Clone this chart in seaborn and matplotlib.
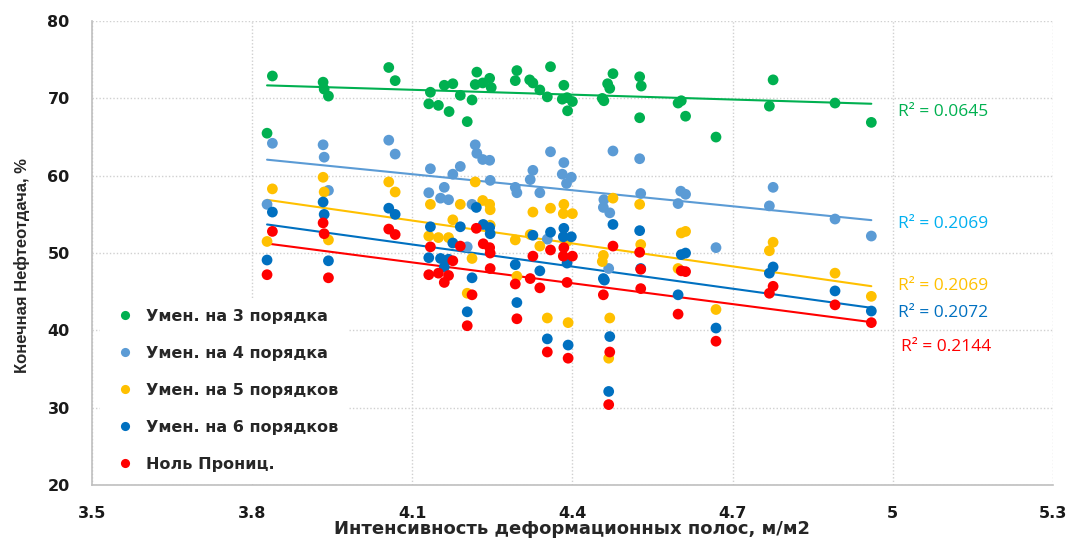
import numpy as np
import pandas as pd
import matplotlib
matplotlib.use("Agg")
import matplotlib.pyplot as plt
import seaborn as sns

# ==========================================
# Data
# ==========================================

series_names = ["Умен. на 3 порядка", "Умен. на 4 порядка", "Умен. на 5 порядков",
                "Умен. на 6 порядков", "Ноль Прониц."]
series_colors = ["#00B050", "#5B9BD5", "#FFC000", "#0070C0", "#FF0000"]
r2_labels = ["R² = 0.0645", "R² = 0.2069", "R² = 0.2069", "R² = 0.2072", "R² = 0.2144"]
r2_colors = ["#00B050", "#00B0F0", "#FFC000", "#0070C0", "#FF0000"]

green_x = [3.828, 3.838, 3.933, 3.935, 3.943, 4.056, 4.068, 4.134, 4.131, 4.149, 4.16, 4.176,
           4.169, 4.19, 4.212, 4.203, 4.221, 4.218, 4.232, 4.245, 4.248, 4.296, 4.293, 4.32,
           4.326, 4.339, 4.353, 4.359, 4.384, 4.381, 4.39, 4.4, 4.391, 4.476, 4.466, 4.47,
           4.456, 4.459, 4.526, 4.529, 4.526, 4.598, 4.604, 4.612, 4.669, 4.776, 4.769, 4.892, 4.96]
green_y = [65.5, 72.9, 72.1, 71.2, 70.3, 74.0, 72.3, 70.8, 69.3, 69.1, 71.7, 71.9,
           68.3, 70.4, 69.8, 67.0, 73.4, 71.8, 72.0, 72.6, 71.4, 73.6, 72.3, 72.4,
           72.0, 71.1, 70.2, 74.1, 71.7, 69.9, 70.1, 69.6, 68.4, 73.2, 71.9, 71.3,
           70.0, 69.7, 72.8, 71.6, 67.5, 69.4, 69.7, 67.7, 65.0, 72.4, 69.0, 69.4, 66.9]

lblue_x = [3.828, 3.838, 3.933, 3.935, 3.943, 4.056, 4.068, 4.134, 4.131, 4.176, 4.19, 4.218,
           4.221, 4.232, 4.245, 4.246, 4.326, 4.321, 4.359, 4.384, 4.381, 4.398, 4.389, 4.476,
           4.16, 4.153, 4.168, 4.293, 4.296, 4.339, 4.212, 4.353, 4.459, 4.458, 4.47, 4.468,
           4.203, 4.528, 4.526, 4.603, 4.612, 4.598, 4.669, 4.776, 4.769, 4.892, 4.96]
lblue_y = [56.3, 64.2, 64.0, 62.4, 58.1, 64.6, 62.8, 60.9, 57.8, 60.2, 61.2, 64.0,
           62.9, 62.1, 62.0, 59.4, 60.7, 59.5, 63.1, 61.7, 60.2, 59.8, 59.0, 63.2,
           58.5, 57.1, 56.9, 58.5, 57.8, 57.8, 56.3, 51.8, 56.9, 55.9, 55.2, 48.0,
           50.8, 57.7, 62.2, 58.0, 57.6, 56.4, 50.7, 58.5, 56.1, 54.4, 52.2]

yellow_x = [3.838, 3.828, 3.933, 3.935, 3.943, 4.056, 4.068, 4.134, 4.131, 4.149, 4.218, 4.19,
            4.232, 4.245, 4.246, 4.176, 4.168, 4.246, 4.212, 4.293, 4.326, 4.359, 4.384, 4.383,
            4.4, 4.321, 4.339, 4.39, 4.476, 4.458, 4.456, 4.296, 4.203, 4.353, 4.392, 4.47,
            4.468, 4.526, 4.604, 4.612, 4.528, 4.776, 4.769, 4.892, 4.598, 4.96, 4.669]
yellow_y = [58.3, 51.5, 59.8, 57.9, 51.7, 59.2, 57.9, 56.3, 52.2, 52.0, 59.2, 56.3,
            56.8, 56.3, 55.6, 54.3, 52.0, 53.6, 49.3, 51.7, 55.3, 55.8, 56.3, 55.1,
            55.1, 52.4, 50.9, 51.5, 57.1, 49.7, 48.9, 47.0, 44.8, 41.6, 41.0, 41.6,
            36.4, 56.3, 52.6, 52.8, 51.1, 51.4, 50.3, 47.4, 48.0, 44.4, 42.7]

dblue_x = [3.838, 3.828, 3.933, 3.935, 3.943, 4.056, 4.068, 4.134, 4.131, 4.19, 4.22, 4.233,
           4.245, 4.246, 4.176, 4.153, 4.168, 4.16, 4.212, 4.326, 4.359, 4.384, 4.383, 4.398,
           4.293, 4.339, 4.39, 4.476, 4.458, 4.203, 4.296, 4.353, 4.392, 4.47, 4.468, 4.526,
           4.604, 4.612, 4.528, 4.776, 4.769, 4.892, 4.598, 4.669, 4.96, 4.46]
dblue_y = [55.3, 49.1, 56.6, 55.0, 49.0, 55.8, 55.0, 53.4, 49.4, 53.4, 55.9, 53.7,
           53.3, 52.5, 51.3, 49.3, 49.2, 48.2, 46.8, 52.3, 52.7, 53.2, 52.1, 52.1,
           48.5, 47.7, 48.7, 53.7, 46.7, 42.4, 43.6, 38.9, 38.1, 39.2, 32.1, 52.9,
           49.8, 50.0, 48.0, 48.2, 47.4, 45.1, 44.6, 40.3, 42.5, 46.5]

red_x = [3.838, 3.828, 3.933, 3.935, 3.943, 4.056, 4.068, 4.134, 4.131, 4.149, 4.19, 4.22,
         4.233, 4.245, 4.246, 4.176, 4.168, 4.16, 4.246, 4.326, 4.359, 4.384, 4.383, 4.4,
         4.476, 4.321, 4.339, 4.293, 4.39, 4.212, 4.203, 4.296, 4.353, 4.392, 4.458, 4.47,
         4.468, 4.526, 4.604, 4.612, 4.528, 4.776, 4.769, 4.528, 4.598, 4.669, 4.892, 4.96]
red_y = [52.8, 47.2, 53.9, 52.5, 46.8, 53.1, 52.4, 50.8, 47.2, 47.4, 50.9, 53.2,
         51.2, 50.7, 50.0, 49.0, 47.1, 46.2, 48.0, 49.6, 50.4, 50.7, 49.6, 49.6,
         50.9, 46.7, 45.5, 46.0, 46.2, 44.6, 40.6, 41.5, 37.2, 36.4, 44.6, 37.2,
         30.4, 50.1, 47.7, 47.6, 47.9, 45.7, 44.8, 45.4, 42.1, 38.6, 43.3, 41.0]

x_ticks = [3.5, 3.8, 4.1, 4.4, 4.7, 5.0, 5.3]
x_tick_labels = ["3.5", "3.8", "4.1", "4.4", "4.7", "5", "5.3"]
y_ticks = [20, 30, 40, 50, 60, 70, 80]

# R² label positions (data coords)
r2_pos = [(5.01, 68.2), (5.01, 53.8), (5.01, 45.8), (5.01, 42.3), (5.015, 37.8)]

# ==========================================
# Build table
# ==========================================

xs = [green_x, lblue_x, yellow_x, dblue_x, red_x]
ys = [green_y, lblue_y, yellow_y, dblue_y, red_y]

frames = []
for name, x, y in zip(series_names, xs, ys):
    frames.append(pd.DataFrame({"x": x, "y": y, "series": name}))
df = pd.concat(frames, ignore_index=True)

# ==========================================
# Plot
# ==========================================

sns.set_style("white")
plt.rcParams["font.family"] = ["DejaVu Sans"]

fig = plt.figure(figsize=(10.73, 5.41), dpi=100)
ax = fig.add_axes([0.0857, 0.1035, 0.8955, 0.8575])

sns.scatterplot(data=df, x="x", y="y", hue="series", hue_order=series_names,
                palette=series_colors, s=60, edgecolor="none", linewidth=0,
                ax=ax, zorder=3)

for name, color in zip(series_names, series_colors):
    sub = df[df["series"] == name]
    sns.regplot(data=sub, x="x", y="y", scatter=False, ci=None, truncate=True,
                color=color, line_kws={"linewidth": 1.5, "zorder": 2}, ax=ax)

for (tx, ty), lab, col in zip(r2_pos, r2_labels, r2_colors):
    ax.text(tx, ty, lab, color=col, fontsize=12.5, ha="left", va="center",
            family=["Open Sans", "DejaVu Sans"])

ax.set_xlim(3.5, 5.3)
ax.set_ylim(20, 80)
ax.set_xticks(x_ticks)
ax.set_xticklabels(x_tick_labels)
ax.set_yticks(y_ticks)
ax.tick_params(axis="both", length=0, labelsize=11.5, labelcolor="#1a1a1a")
ax.tick_params(axis="x", pad=15)
ax.tick_params(axis="y", pad=16)
for lab in ax.get_xticklabels() + ax.get_yticklabels():
    lab.set_fontweight("bold")

ax.grid(True, linestyle=(0, (1, 1.5)), color="#D0D0D0", linewidth=1)
ax.set_axisbelow(True)
for s in ["top", "right"]:
    ax.spines[s].set_visible(False)
for s in ["left", "bottom"]:
    ax.spines[s].set_color("#BFBFBF")
    ax.spines[s].set_linewidth(1.2)

ax.set_xlabel("Интенсивность деформационных полос, м/м2", fontsize=13,
              fontweight="bold", family=["Liberation Sans Narrow", "DejaVu Sans"])
ax.set_ylabel("Конечная Нефтеотдача, %", fontsize=12, fontweight="semibold",
              family=["Liberation Sans", "DejaVu Sans"])
ax.xaxis.set_label_coords(0.5, -0.075)
ax.yaxis.set_label_coords(-0.064, 0.474)

handles, labels = ax.get_legend_handles_labels()
leg = ax.legend(handles[:5], series_names, loc="lower left", bbox_to_anchor=(0.0, -0.01),
                frameon=True, facecolor="white", edgecolor="white", framealpha=1,
                prop={"size": 11.5, "weight": "bold"}, labelspacing=1.38,
                handletextpad=0.3, markerscale=0.85, borderpad=0.6)
leg.set_zorder(5)

fig.savefig("out.png", dpi=100)
